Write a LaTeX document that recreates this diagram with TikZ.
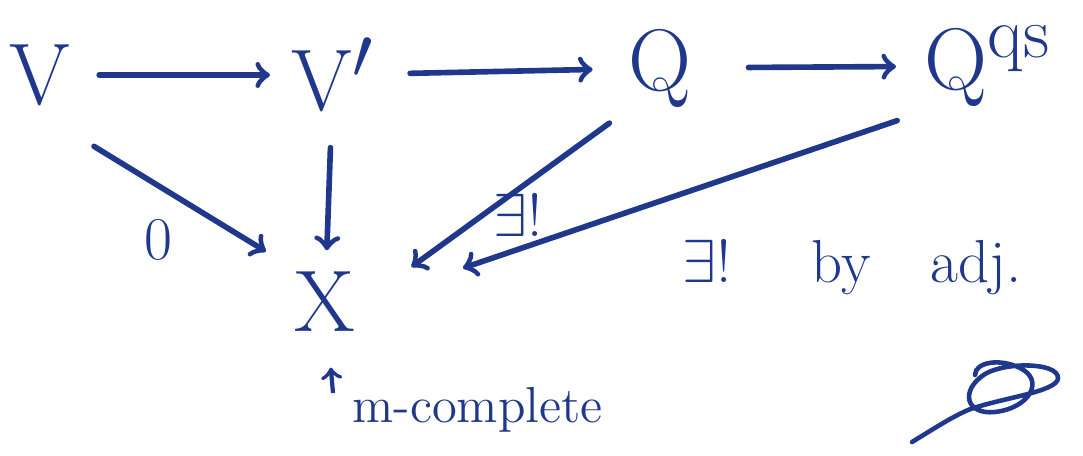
\documentclass[tikz,border=0pt]{standalone}
\usepackage{amssymb}
\usepackage{xcolor}
\usepackage{tikz}
\usetikzlibrary{calc,positioning}
\definecolor{InkBlue}{RGB}{32,56,140}

\begin{document}
\begin{tikzpicture}[x=0.01cm, y=-0.01cm,
    obj/.style={color=InkBlue, inner sep=2pt, font=\Huge},
    lbl/.style={color=InkBlue, inner sep=1pt, font=\LARGE},
    map/.style={->, line width=1.6pt, color=InkBlue, line cap=round}]
    \useasboundingbox (0,0) rectangle (1083,455);

    % Objects of the diagram
    \node[obj] (V)   at (40,75)   {V};
    \node[obj] (Vp)  at (333,75)  {V$'$};
    \node[obj] (Q)   at (660,68)  {Q};
    \node[obj] (Qqs) at (988,66)  {Q$^{\mathrm{qs}}$};
    \node[obj] (X)   at (325,302) {X};

    % Top row
    \draw[map, shorten <=6pt, shorten >=4pt] (V) -- (Vp);
    \draw[map, shorten <=8pt, shorten >=8pt] (Vp) -- (Q);
    \draw[map, shorten <=14pt, shorten >=6pt] (Q) -- (Qqs);

    % Maps into X
    \draw[map, shorten <=18pt, shorten >=7pt] (V.south) -- (X.north west);
    \draw[map, shorten <=8pt, shorten >=4pt] (Vp) -- (X);
    \draw[map, shorten <=4pt, shorten >=17pt] (Q.south west) -- (X.east);
    \draw[map, shorten <=6pt, shorten >=30pt] (Qqs.south west) -- (X.east);

    % Labels
    \node[lbl] (zero)   at (158,240) {0};
    \node[lbl] (uniq)   at (518,215) {$\exists!$};
    \node[lbl] (byadj)  at (852,268) {$\exists!$\hspace{0.8cm}by\hspace{0.6cm}adj.};

    % m-complete remark under X
    \coordinate (mtail) at (333,393);
    \draw[->, line width=1.2pt, color=InkBlue, shorten >=8pt] (mtail) -- (X);
    \node[lbl, font=\Large, anchor=west] (mcomp) at (348,410) {m-complete};

    % Signature
    \draw[line width=1.3pt, color=InkBlue, line cap=round]
        (912,442) .. controls (935,428) and (950,418) .. (968,410)
        .. controls (1000,398) and (1058,392) .. (1058,378)
        .. controls (1058,362) and (1005,362) .. (985,374)
        .. controls (960,390) and (965,415) .. (995,412)
        .. controls (1030,408) and (1045,380) .. (1020,368)
        .. controls (1000,358) and (975,362) .. (975,375);
\end{tikzpicture}
\end{document}
